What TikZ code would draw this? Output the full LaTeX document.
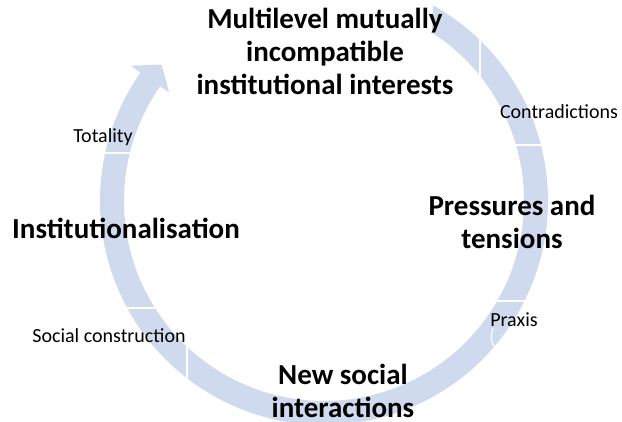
\documentclass[tikz,border=0pt]{standalone}
\usepackage{fontspec}
\setmainfont{Carlito}
\usetikzlibrary{calc}
\definecolor{ringblue}{RGB}{207,218,238}
\tikzset{
  ring/.style={fill=ringblue, draw=none},
  divider/.style={draw=white, line width=1.2pt},
  stage/.style={font=\fontsize{29}{33}\selectfont\bfseries, align=center, inner sep=0pt, anchor=base},
  aspect/.style={font=\fontsize{20}{24}\selectfont, inner sep=0pt, anchor=base},
}
\begin{document}
\begin{tikzpicture}[x=1pt,y=1pt]
\useasboundingbox (0,0) rectangle (622,422);
\coordinate (C) at (324,221);

% circular arrow: tail at the top right, head at the top left
\def\ringpath{($(C)+(60.9:224)$) arc[start angle=60.9, end angle=-215, radius=224]
  -- ($(C)+(-215:236)$) -- ($(C)+(-220:212)$) -- ($(C)+(-215:189)$)
  -- ($(C)+(-215:200)$) arc[start angle=-215, end angle=57.3, radius=200] -- cycle}
\fill[ring] \ringpath;

% white dividers across the band
\begin{scope}
  \clip \ringpath;
  \coordinate (d1a) at (480,390); \coordinate (d1b) at (480,336);
  \coordinate (d2a) at (512,277); \coordinate (d2b) at (552,277);
  \coordinate (d3a) at (492,121); \coordinate (d3b) at (532,121);
  \coordinate (d4a) at (493,94);  \coordinate (d4b) at (498,70);
  \coordinate (d5a) at (94,269);  \coordinate (d5b) at (134,269);
  \coordinate (d6a) at (118,114); \coordinate (d6b) at (160,114);
  \coordinate (d7a) at (187,80);  \coordinate (d7b) at (187,38);
  \draw[divider] (d1a) -- (d1b);
  \draw[divider] (d2a) -- (d2b);
  \draw[divider] (d3a) -- (d3b);
  \draw[divider] (d4a) .. controls (490,82) .. (d4b);
  \draw[divider] (d5a) -- (d5b);
  \draw[divider] (d6a) -- (d6b);
  \draw[divider] (d7a) -- (d7b);
\end{scope}

% stages of the cycle (base anchor sits on the last line)
\node[stage] (interests) at (325,327) {Multilevel mutually\\incompatible\\institutional interests};
\node[stage] (pressures) at (512,173) {Pressures and\\tensions};
\node[stage] (interact) at (343,4) {New social\\interactions};
\node[stage] (instit) at (126,183) {Institutionalisation};

% dialectical aspects
\node[aspect] (contra) at (559,303) {Contradictions};
\node[aspect] (praxis) at (514,95) {Praxis};
\node[aspect] (socon) at (109,79) {Social construction};
\node[aspect] (total) at (103,279) {Totality};
\end{tikzpicture}
\end{document}
